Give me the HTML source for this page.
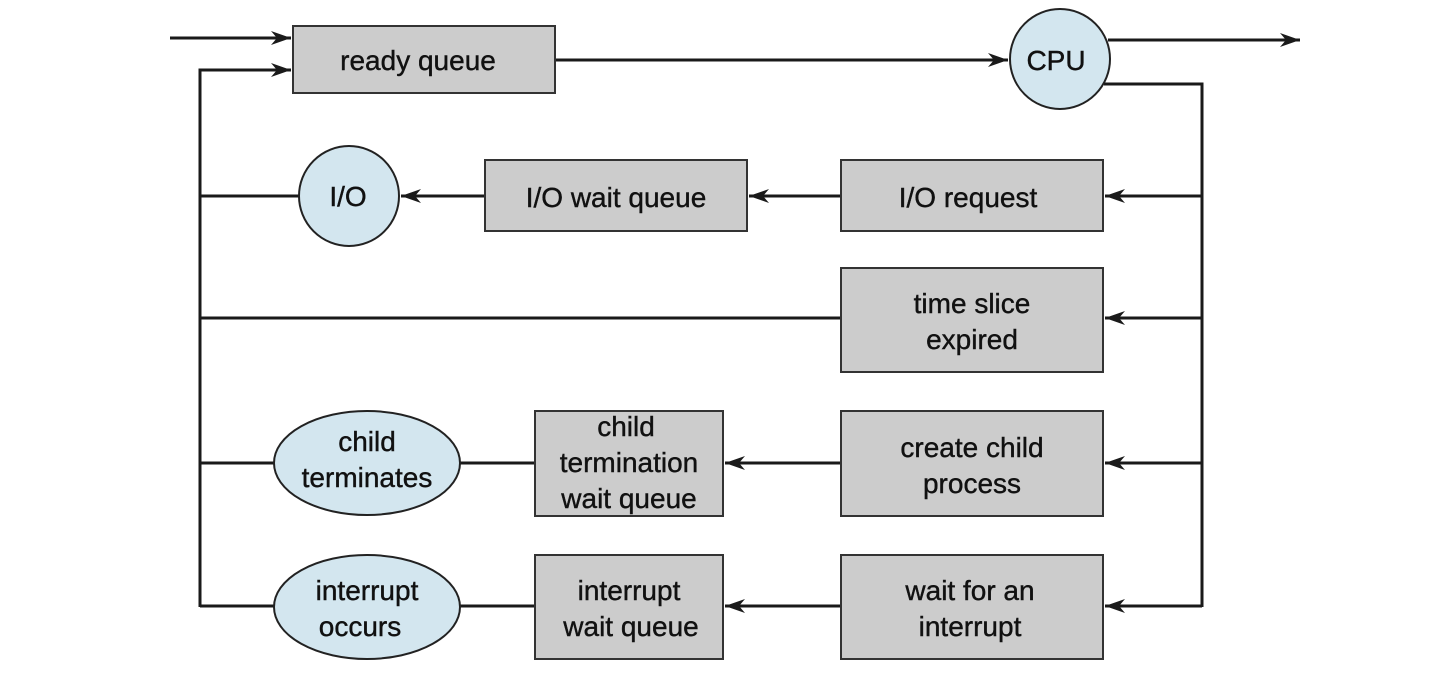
<!DOCTYPE html>
<html><head><meta charset="utf-8"><style>body{margin:0;background:#fff}svg{display:block}</style></head><body>
<svg width="1432" height="692" viewBox="0 0 1432 692" xmlns="http://www.w3.org/2000/svg">
<defs><marker id="a" markerWidth="22" markerHeight="14" refX="20" refY="7" orient="auto" markerUnits="userSpaceOnUse"><path d="M0,0 L20,7 L0,14 L6,7 Z" fill="#1a1a1a"/></marker></defs>
<g stroke="#1a1a1a" stroke-width="3" fill="none">
<line x1="170" y1="38" x2="291" y2="38" marker-end="url(#a)"/>
<polyline points="200,607 200,70 291,70" marker-end="url(#a)"/>
<line x1="555" y1="60" x2="1008" y2="60" marker-end="url(#a)"/>
<line x1="1108" y1="40" x2="1300" y2="40" marker-end="url(#a)"/>
<polyline points="1104,84 1202,84 1202,607"/>
<line x1="1202" y1="196" x2="1105" y2="196" marker-end="url(#a)"/>
<line x1="1202" y1="318" x2="1105" y2="318" marker-end="url(#a)"/>
<line x1="1202" y1="463" x2="1105" y2="463" marker-end="url(#a)"/>
<line x1="1202" y1="606" x2="1105" y2="606" marker-end="url(#a)"/>
<line x1="841" y1="196" x2="749" y2="196" marker-end="url(#a)"/>
<line x1="485" y1="196" x2="401" y2="196" marker-end="url(#a)"/>
<line x1="200" y1="196" x2="299" y2="196"/>
<line x1="200" y1="318" x2="841" y2="318"/>
<line x1="200" y1="463" x2="274" y2="463"/>
<line x1="460" y1="463" x2="535" y2="463"/>
<line x1="841" y1="463" x2="725" y2="463" marker-end="url(#a)"/>
<line x1="200" y1="606" x2="274" y2="606"/>
<line x1="460" y1="606" x2="535" y2="606"/>
<line x1="841" y1="606" x2="725" y2="606" marker-end="url(#a)"/>
</g>
<g stroke="#333" stroke-width="2" fill="#cccccc">
<rect x="293" y="26" width="262" height="67"/>
<rect x="485" y="160" width="262" height="71"/>
<rect x="841" y="160" width="262" height="71"/>
<rect x="841" y="268" width="262" height="104"/>
<rect x="841" y="411" width="262" height="105"/>
<rect x="535" y="411" width="188" height="105"/>
<rect x="841" y="555" width="262" height="104"/>
<rect x="535" y="555" width="188" height="104"/>
</g>
<g stroke="#222" stroke-width="2" fill="#d3e6ef">
<circle cx="1060" cy="59" r="50"/>
<circle cx="349" cy="196" r="50"/>
<ellipse cx="367" cy="463" rx="93" ry="52"/>
<ellipse cx="367" cy="607" rx="93" ry="52"/>
</g>
<g font-family="Liberation Sans, sans-serif" font-size="28" fill="#111" text-anchor="middle" stroke="#111" stroke-width="0.4">
<text x="418" y="70">ready queue</text>
<text x="1056" y="70">CPU</text>
<text x="348" y="206">I/O</text>
<text x="616" y="207">I/O wait queue</text>
<text x="968" y="207">I/O request</text>
<text x="972" y="313">time slice</text><text x="972" y="349">expired</text>
<text x="972" y="457">create child</text><text x="972" y="493">process</text>
<text x="626" y="436">child</text><text x="629" y="472">termination</text><text x="629" y="508">wait queue</text>
<text x="367" y="451">child</text><text x="367" y="487">terminates</text>
<text x="970" y="600">wait for an</text><text x="970" y="636">interrupt</text>
<text x="629" y="600">interrupt</text><text x="631" y="636">wait queue</text>
<text x="367" y="600">interrupt</text><text x="360" y="636">occurs</text>
</g>
</svg>
</body></html>
